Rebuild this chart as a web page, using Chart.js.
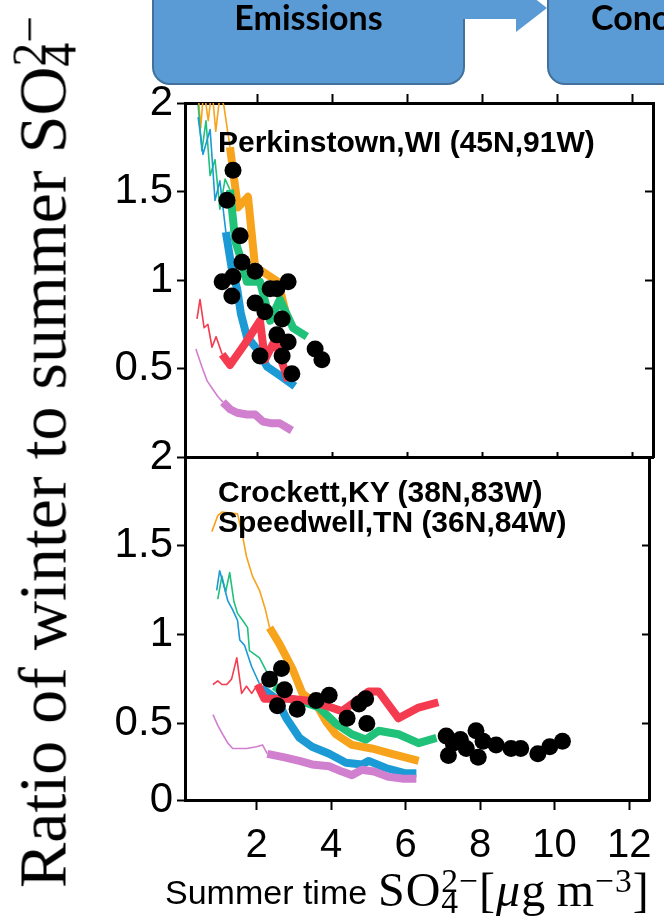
<!DOCTYPE html>
<html>
<head>
<meta charset="utf-8">
<script src="https://cdn.jsdelivr.net/npm/chart.js@4.4.1/dist/chart.umd.min.js"></script>
<style>
html, body { margin: 0; padding: 0; background: #fff; }
body { width: 664px; height: 922px; overflow: hidden; position: relative; font-family: "Liberation Sans", Arial, sans-serif; }
canvas { position: absolute; left: 0; top: 0; }
.box { position: absolute; top: -30px; height: 115px; box-sizing: border-box; background: #5b9bd5; border: 2px solid #41719c; border-radius: 18px; }
.box span { position: absolute; top: 28px; font: bold 34px Lato, "Open Sans", sans-serif; line-height: 34px; color: #000; white-space: nowrap; }
.shaft { position: absolute; left: 462px; top: -3px; width: 56px; height: 22px; background: #5b9bd5; z-index: 2; }
.head { position: absolute; left: 516px; top: -16px; width: 0; height: 0; border-left: 31px solid #5b9bd5; border-top: 24px solid transparent; border-bottom: 24px solid transparent; z-index: 2; }
.note { position: absolute; left: 218px; font: bold 30px "Liberation Sans", Arial, sans-serif; line-height: 30px; color: #000; white-space: nowrap; }
.serif { font-family: "Liberation Serif", "Times New Roman", serif; white-space: nowrap; color: #000; }
.sub { position: relative; top: 0.22em; font-size: 0.7em; margin-right: -0.5em; display: inline-block; width: 0.5em; }
.sup { position: relative; top: -0.42em; font-size: 0.7em; }
#ytitle { position: absolute; left: 46px; top: 452px; transform: translate(-50%, -50%) rotate(-90deg); font-size: 68px; line-height: 68px; }
#xlab1 { position: absolute; left: 165px; top: 875px; font-size: 34px; line-height: 34px; white-space: nowrap; }
#xlab2 { position: absolute; left: 378px; top: 866px; font-size: 48px; line-height: 48px; letter-spacing: 1px; }
</style>
</head>
<body>
<canvas id="topChart" width="664" height="922"></canvas>
<canvas id="bottomChart" width="664" height="922"></canvas>

<div class="box" style="left:152px; width:313px;"><span style="left:0; width:309px; text-align:center;">Emissions</span></div>
<div class="shaft"></div>
<div class="head"></div>
<div class="box" style="left:547px; width:200px;"><span style="left:42px;">Concentrations</span></div>

<div class="note" style="top:127px;">Perkinstown,WI (45N,91W)</div>
<div class="note" style="top:477px;">Crockett,KY (38N,83W)</div>
<div class="note" style="top:507px;">Speedwell,TN (36N,84W)</div>

<div id="ytitle" class="serif">Ratio of winter to summer SO<span class="sub">4</span><span class="sup">2&#8722;</span></div>
<div id="xlab1">Summer time</div>
<div id="xlab2" class="serif">SO<span class="sub">4</span><span class="sup">2&#8722;</span>[<i>&mu;</i>g&#8201;m<span class="sup">&#8722;3</span>]</div>

<script>
var xTicks = [2, 4, 6, 8, 10, 12];
var topYTicks = [0.5, 1, 1.5, 2];
var bottomYTicks = [0, 0.5, 1, 1.5, 2];

// Perkinstown,WI panel
var topOrangeThin = [[0.42,2.08],[0.5,1.86],[0.58,2.08],[0.7,1.9],[0.8,2.08],[0.9,1.84],[1.02,2.06],[1.12,1.98],[1.28,1.75]];
var topOrangeThick = [[1.28,1.75],[1.36,1.62],[1.49,1.41],[1.76,1.47],[1.95,1.07],[2.13,1.05],[2.56,0.99],[2.75,0.83]];
var topGreenThin = [[0.43,1.99],[0.53,1.73],[0.64,1.9],[0.75,1.59],[0.88,1.68],[1.01,1.4],[1.15,1.57],[1.28,1.51]];
var topGreenThick = [[1.28,1.51],[1.42,1.22],[1.6,1.1],[1.73,0.99],[2.08,0.99],[2.35,0.77],[2.61,0.89],[2.96,0.73],[3.33,0.68]];
var topBlueThin = [[0.43,1.92],[0.56,1.71],[0.75,1.85],[0.88,1.45],[1.01,1.56],[1.17,1.27]];
var topBlueThick = [[1.17,1.27],[1.33,1.06],[1.47,0.95],[1.57,0.81],[1.73,0.68],[2.0,0.61],[2.27,0.51],[2.61,0.46],[3.01,0.4]];
var topRedThin = [[0.4,0.78],[0.48,0.89],[0.59,0.73],[0.69,0.75],[0.8,0.62],[0.91,0.68],[1.07,0.58]];
var topRedThick = [[1.07,0.58],[1.28,0.52],[1.68,0.64],[2.08,0.77],[2.21,0.55],[2.48,0.66],[2.83,0.43]];
var topPinkThin = [[0.37,0.61],[0.53,0.51],[0.67,0.43],[0.83,0.38],[0.96,0.34],[1.09,0.31]];
var topPinkThick = [[1.09,0.31],[1.28,0.27],[1.47,0.25],[1.73,0.24],[1.95,0.24],[2.16,0.2],[2.4,0.19],[2.61,0.19],[2.93,0.15]];
var topObs = [[1.36,1.62],[1.2,1.45],[1.55,1.25],[1.6,1.1],[1.07,0.99],[1.36,1.02],[1.95,1.05],[1.33,0.91],[2.35,0.95],[2.53,0.95],[2.83,0.99],[1.95,0.87],[2.21,0.82],[2.67,0.78],[2.53,0.69],[2.83,0.65],[2.08,0.57],[2.67,0.57],[2.93,0.47],[3.55,0.61],[3.73,0.55]];

// Crockett,KY + Speedwell,TN panel
var botOrangeThin = [[0.8,1.58],[0.96,1.67],[1.07,1.69],[1.49,1.68],[1.63,1.55],[1.73,1.44],[1.89,1.33],[2.08,1.25],[2.24,1.14],[2.35,1.04]];
var botOrangeThick = [[2.35,1.04],[2.61,0.95],[2.96,0.81],[3.23,0.67],[3.6,0.61],[3.87,0.51],[4.13,0.44],[4.56,0.38],[5.09,0.36],[5.63,0.33],[6.35,0.29]];
var botGreenThin = [[0.96,1.2],[1.07,1.33],[1.17,1.24],[1.28,1.35],[1.39,1.19],[1.49,1.12],[1.63,1.08],[1.76,1.04],[1.81,0.91],[2.08,0.87],[2.35,0.76],[2.48,0.71]];
var botGreenThick = [[2.48,0.71],[2.88,0.64],[3.15,0.63],[3.68,0.59],[4.13,0.5],[4.56,0.44],[4.93,0.41],[5.28,0.46],[5.81,0.44],[6.35,0.39],[6.83,0.42]];
var botBlueThin = [[0.93,1.25],[1.01,1.36],[1.12,1.28],[1.23,1.19],[1.36,1.14],[1.49,1.08],[1.55,0.97],[1.68,0.94],[1.87,0.82],[2.13,0.7]];
var botBlueThick = [[2.13,0.7],[2.53,0.64],[2.8,0.53],[3.15,0.42],[3.49,0.37],[3.95,0.33],[4.4,0.28],[4.83,0.27],[5.01,0.29],[5.47,0.25],[6.0,0.22],[6.29,0.22]];
var botRedThin = [[0.83,0.72],[0.96,0.74],[1.07,0.72],[1.2,0.72],[1.33,0.75],[1.47,0.87],[1.6,0.67],[1.73,0.71],[1.87,0.67],[2.03,0.72]];
var botRedThick = [[2.03,0.72],[2.21,0.64],[2.35,0.64],[2.88,0.64],[3.33,0.63],[3.87,0.6],[4.29,0.57],[4.75,0.64],[5.01,0.68],[5.28,0.68],[5.81,0.53],[6.35,0.59],[6.88,0.62]];
var botPinkThin = [[0.83,0.55],[0.96,0.49],[1.09,0.44],[1.23,0.39],[1.36,0.36],[1.73,0.36],[2.0,0.37],[2.16,0.38],[2.29,0.33]];
var botPinkThick = [[2.29,0.33],[2.75,0.31],[3.15,0.29],[3.49,0.27],[3.95,0.26],[4.29,0.23],[4.56,0.21],[4.83,0.24],[5.15,0.23],[5.55,0.2],[5.95,0.19],[6.29,0.19]];
var botObs = [[2.35,0.75],[2.67,0.81],[2.75,0.69],[2.56,0.6],[3.09,0.58],[3.6,0.63],[3.95,0.66],[4.43,0.53],[4.75,0.61],[4.93,0.64],[4.96,0.5],[7.09,0.43],[7.15,0.32],[7.28,0.39],[7.47,0.41],[7.63,0.36],[7.89,0.46],[7.95,0.31],[8.08,0.4],[8.43,0.38],[8.83,0.36],[9.09,0.36],[9.55,0.33],[9.87,0.37],[10.21,0.4]];

var colors = {orange: '#f8a31c', green: '#20c27a', blue: '#1c9ad6', red: '#f43b4f', pink: '#d17fcf'};

function pts(arr) {
    return arr.map(function (p) { return {x: p[0], y: p[1]}; });
}

function line(arr, color, width) {
    return {
        data: pts(arr),
        showLine: true,
        borderColor: color,
        backgroundColor: color,
        borderWidth: width,
        borderJoinStyle: 'round',
        pointRadius: 0,
        clip: 0
    };
}

function dots(arr) {
    return {
        data: pts(arr),
        showLine: false,
        backgroundColor: '#000',
        borderWidth: 0,
        pointRadius: 8.5,
        clip: false
    };
}

function axes(p) {
    var setX = function (s) { s.ticks = xTicks.map(function (v) { return {value: v}; }); };
    var setY = function (s) { s.ticks = p.yTicks.map(function (v) { return {value: Math.max(v, p.yMin)}; }); };
    var black = '#000';
    return {
        x: {
            type: 'linear', position: 'bottom', min: 0.08, max: 12.56,
            afterBuildTicks: setX,
            afterFit: function (s) { s.height = p.bottomH; },
            border: {color: black, width: 3},
            grid: {drawOnChartArea: false, color: black, tickLength: p.bottomTick, tickWidth: 2},
            ticks: {display: p.xLabels, color: black, padding: 12, maxRotation: 0,
                    font: {family: 'Liberation Sans', size: 40}}
        },
        x2: {
            type: 'linear', position: 'top', min: 0.08, max: 12.56,
            afterBuildTicks: setX,
            afterFit: function (s) { s.height = p.topH; },
            border: {color: black, width: 3},
            grid: {drawOnChartArea: false, color: black, tickLength: p.topTick, tickWidth: 2},
            ticks: {display: false}
        },
        y: {
            type: 'linear', position: 'left', min: p.yMin, max: 2,
            afterBuildTicks: setY,
            afterFit: function (s) { s.width = 185; },
            border: {color: black, width: 3},
            grid: {drawOnChartArea: false, color: black, tickLength: 8, tickWidth: 2},
            ticks: {color: black, padding: 4, font: {family: 'Liberation Sans', size: 42},
                    callback: function (v, i) { return String(p.yTicks[i]); }}
        },
        y2: {
            type: 'linear', position: 'right', min: p.yMin, max: 2,
            afterBuildTicks: setY,
            afterFit: function (s) { s.width = 11; },
            border: {color: black, width: 3},
            grid: {drawOnChartArea: false, color: black, tickLength: -8, tickWidth: 2},
            ticks: {display: false}
        }
    };
}

function panel(id, sets, p) {
    new Chart(document.getElementById(id), {
        type: 'scatter',
        data: {
            datasets: [
                dots(sets.obs),
                line(sets.redThick, colors.red, 8),
                line(sets.redThin, colors.red, 1.6),
                line(sets.pinkThick, colors.pink, 8),
                line(sets.pinkThin, colors.pink, 1.6),
                line(sets.blueThick, colors.blue, 8),
                line(sets.blueThin, colors.blue, 1.6),
                line(sets.greenThick, colors.green, 8),
                line(sets.greenThin, colors.green, 1.6),
                line(sets.orangeThick, colors.orange, 8),
                line(sets.orangeThin, colors.orange, 1.6)
            ]
        },
        options: {
            responsive: false,
            animation: false,
            layout: {padding: 0},
            plugins: {legend: {display: false}, tooltip: {enabled: false}},
            scales: axes(p)
        }
    });
}

panel('topChart', {
    obs: topObs, redThick: topRedThick, redThin: topRedThin, pinkThick: topPinkThick, pinkThin: topPinkThin,
    blueThick: topBlueThick, blueThin: topBlueThin, greenThick: topGreenThick, greenThin: topGreenThin,
    orangeThick: topOrangeThick, orangeThin: topOrangeThin
}, {yMin: 0, yTicks: topYTicks, topH: 103, bottomH: 465, topTick: 9, bottomTick: -5, xLabels: false});

panel('bottomChart', {
    obs: botObs, redThick: botRedThick, redThin: botRedThin, pinkThick: botPinkThick, pinkThin: botPinkThin,
    blueThick: botBlueThick, blueThin: botBlueThin, greenThick: botGreenThick, greenThin: botGreenThin,
    orangeThick: botOrangeThick, orangeThin: botOrangeThin
}, {yMin: 0.07, yTicks: bottomYTicks, topH: 457, bottomH: 122, topTick: 0, bottomTick: 10, xLabels: true});
</script>
</body>
</html>
